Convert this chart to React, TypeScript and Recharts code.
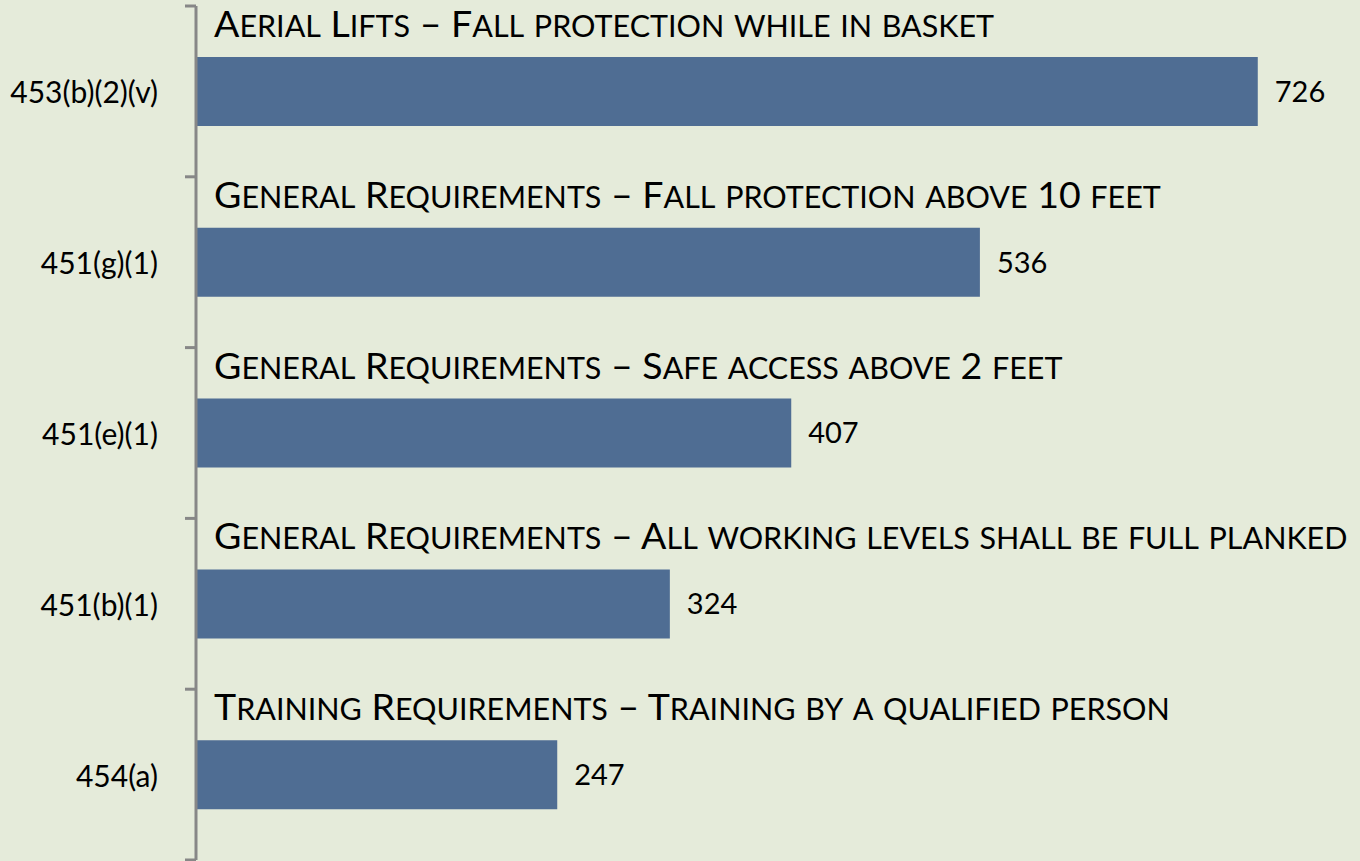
import React from 'react';
import { BarChart, Bar, XAxis, YAxis, LabelList } from 'recharts';

// standard sections, their descriptions and citation counts
const codes = ['453(b)(2)(v)', '451(g)(1)', '451(e)(1)', '451(b)(1)', '454(a)'];
const titles = [
  'Aerial Lifts – Fall protection while in basket',
  'General Requirements – Fall protection above 10 feet',
  'General Requirements – Safe access above 2 feet',
  'General Requirements – All working levels shall be full planked',
  'Training Requirements – Training by a qualified person',
];
const counts = [726, 536, 407, 324, 247];

const data = codes.map((code, i) => ({ code, title: titles[i], count: counts[i] }));

const FONT = 'Lato, "Open Sans", sans-serif';
const BAR_COLOR = '#4F6D93';
const AXIS_COLOR = '#878787';

// split a string into small-caps runs (lowercase letters become smaller capitals)
const smallCaps = (s: string) => {
  const runs: { t: string; small: boolean }[] = [];
  for (const ch of s) {
    const small = ch !== ch.toUpperCase();
    const last = runs[runs.length - 1];
    if (last && last.small === small) last.t += ch.toUpperCase();
    else runs.push({ t: ch.toUpperCase(), small });
  }
  return runs;
};

const TitleLabel = (props: any) => {
  const { x, y, value } = props;
  return (
    <text x={x + 18} y={y - 20} fill="#000" fontFamily={FONT} fontSize={37.5}>
      {smallCaps(String(value)).map((r, i) => (
        <tspan key={i} fontSize={r.small ? 30.5 : 37.5}>
          {r.t}
        </tspan>
      ))}
    </text>
  );
};

const CodeTick = (props: any) => {
  const { x, y, payload, index, visibleTicksCount } = props;
  const half = payload && payload.offset ? payload.offset : 85.4;
  const axisX = x + 38;
  return (
    <g>
      <line x1={axisX - 11} x2={axisX} y1={y - half} y2={y - half} stroke={AXIS_COLOR} strokeWidth={3} />
      {index === (visibleTicksCount ?? 5) - 1 && (
        <line x1={axisX - 11} x2={axisX} y1={y + half} y2={y + half} stroke={AXIS_COLOR} strokeWidth={3} />
      )}
      <text x={x} y={y} textAnchor="end" dominantBaseline="central" fill="#000" fontFamily={FONT} fontSize={30}>
        {payload.value}
      </text>
    </g>
  );
};

const App = () => {
  return (
    <div
      style={{
        position: 'absolute',
        left: 0,
        top: 0,
        width: 1360,
        height: 861,
        background: '#E5EBDA',
        overflow: 'hidden',
      }}
    >
      <BarChart
        width={1366}
        height={861}
        data={data}
        layout="vertical"
        margin={{ top: 6, right: 0, bottom: 1, left: 0 }}
      >
        <XAxis type="number" domain={[0, 800]} hide />
        <YAxis
          type="category"
          dataKey="code"
          width={196}
          interval={0}
          axisLine={{ stroke: AXIS_COLOR, strokeWidth: 3 }}
          tickLine={false}
          tickSize={0}
          tickMargin={38}
          tick={<CodeTick />}
        />
        <Bar dataKey="count" fill={BAR_COLOR} barSize={69} isAnimationActive={false}>
          <LabelList dataKey="title" content={<TitleLabel />} />
          <LabelList
            dataKey="count"
            position="right"
            offset={17}
            fill="#000"
            fontFamily={FONT}
            fontSize={29}
          />
        </Bar>
      </BarChart>
    </div>
  );
};

export default App;
